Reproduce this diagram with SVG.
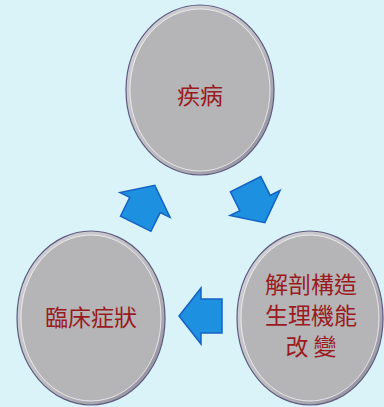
<svg xmlns="http://www.w3.org/2000/svg" width="384" height="407" viewBox="0 0 384 407">
<defs>
<linearGradient id="rim" x1="0" y1="0" x2="1" y2="1">
<stop offset="0" stop-color="#d4d4d8"/>
<stop offset="0.55" stop-color="#bcbcc0"/>
<stop offset="1" stop-color="#8a8698"/>
</linearGradient>
<polygon id="arrow" points="-21,-17 0,-17 0,-28 22,0 0,28 0,17 -21,17"/>
</defs>
<style>
.rim{fill:url(#rim);stroke:#5e5a80;stroke-width:1.2}
.face{fill:#b5b5b7;stroke:#f4f4f6;stroke-width:1;stroke-opacity:0.8}
.lbl{font-family:"Noto Sans CJK TC","Noto Sans CJK SC",sans-serif;font-size:23px;fill:#9a1a1e;text-anchor:middle}
.arr{fill:#1e90e0;stroke:#1462c4;stroke-width:1.5;stroke-linejoin:miter}
</style>
<rect width="384" height="407" fill="#d9f3f8"/>
<g id="node-disease">
<ellipse class="rim" cx="200" cy="90" rx="74" ry="85"/>
<ellipse class="face" cx="200" cy="90" rx="70" ry="81"/>
<text class="lbl" x="200" y="104">疾病</text>
</g>
<g id="node-symptoms">
<ellipse class="rim" cx="91" cy="318" rx="74" ry="87"/>
<ellipse class="face" cx="91" cy="318" rx="70" ry="83"/>
<text class="lbl" x="91" y="326">臨床症狀</text>
</g>
<g id="node-changes">
<ellipse class="rim" cx="310" cy="318" rx="73" ry="87"/>
<ellipse class="face" cx="310" cy="318" rx="69" ry="83"/>
<text class="lbl" x="311" y="293">解剖構造</text>
<text class="lbl" x="311" y="324">生理機能</text>
<text class="lbl" x="311" y="355">改 變</text>
</g>
<g id="connectors">
<use href="#arrow" class="arr" transform="translate(145,205) rotate(-63.6)"/>
<use href="#arrow" class="arr" transform="translate(255,203) rotate(63.4)"/>
<use href="#arrow" class="arr" transform="translate(201,316) rotate(180)"/>
</g>
</svg>
